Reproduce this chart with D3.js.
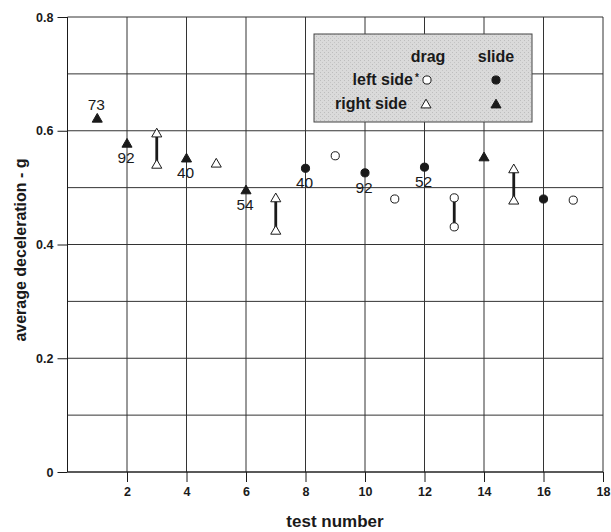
<!DOCTYPE html>
<html><head><meta charset="utf-8">
<script src="https://cdn.jsdelivr.net/npm/d3@7"></script>
<style>body{margin:0;background:#fff}svg{display:block}text{font-family:"Liberation Sans",Arial,sans-serif}</style>
</head><body><svg id="c" width="611" height="532"></svg>
<script>
// ---- data ----
const xTicks = [2,4,6,8,10,12,14,16,18];
const yTicks = [0,0.2,0.4,0.6,0.8];
// single points: test, value, method (drag/slide), side (left/right)
const pointTests  = [1,2,4,5,6,8,9,10,11,12,14,16,17];
const pointValues = [0.622,0.578,0.552,0.543,0.496,0.534,0.556,0.526,0.480,0.536,0.554,0.480,0.478];
const pointMethod = ["slide","slide","slide","drag","slide","slide","drag","slide","drag","slide","slide","slide","drag"];
const pointSide   = ["right","right","right","right","right","left","left","left","left","left","right","left","left"];
const pointLabels = ["73","92","40","","54","40","","92","","52","","",""];
const labelAbove  = [true,false,false,false,false,false,false,false,false,false,false,false,false];
// ranges (drag tests with two results)
const rangeTests = [3,7,13,15];
const rangeHigh  = [0.596,0.482,0.482,0.533];
const rangeLow   = [0.541,0.425,0.431,0.478];
const rangeSide  = ["right","right","left","right"];

const svg = d3.select("#c");
const x = d3.scaleLinear().domain([0,18]).range([67.5,603]);
const y = d3.scaleLinear().domain([0,0.8]).range([472,17]);
const ink = "#1a1a1a";

// grid
const g = svg.append("g");
g.selectAll(".hg").data(d3.range(0,0.81,0.1)).join("line")
  .attr("x1",x(0)).attr("x2",x(18)).attr("y1",d=>y(d)).attr("y2",d=>y(d))
  .attr("stroke","#333").attr("stroke-width",1);
g.selectAll(".vg").data([0].concat(xTicks)).join("line")
  .attr("x1",d=>x(d)).attr("x2",d=>x(d)).attr("y1",y(0.8)).attr("y2",y(0))
  .attr("stroke","#333").attr("stroke-width",1);

// axes
const xAxis = d3.axisBottom(x).tickValues(xTicks).tickSize(10).tickPadding(5).tickFormat(d3.format("d"));
const ax = svg.append("g").attr("transform",`translate(0,${y(0)})`).call(xAxis);
ax.select(".domain").attr("stroke",ink).attr("d",`M${x(0)},0H${x(18)}`);
ax.selectAll(".tick line").attr("stroke",ink);
ax.selectAll("text").attr("font-size",12.5).attr("font-weight","bold").attr("fill",ink);

const yAxis = d3.axisLeft(y).tickValues(yTicks).tickSize(10).tickPadding(4).tickFormat(d=>d===0?"0":d3.format(".1f")(d));
const ay = svg.append("g").attr("transform",`translate(${x(0)},0)`).call(yAxis);
ay.select(".domain").attr("stroke",ink).attr("d",`M0,${y(0)}V${y(0.8)}`);
ay.selectAll(".tick line").attr("stroke",ink);
ay.selectAll("text").attr("font-size",12.5).attr("font-weight","bold").attr("fill",ink);

// titles
svg.append("text").attr("x",335).attr("y",527).attr("text-anchor","middle")
  .attr("font-size",17).attr("font-weight","bold").attr("fill",ink).text("test number");
svg.append("text").attr("transform","translate(26,250) rotate(-90)").attr("text-anchor","middle")
  .attr("font-size",16).attr("font-weight","bold").attr("fill",ink).text("average deceleration - g");

// symbols
function sym(side){ return d3.symbol().type(side==="right"?d3.symbolTriangle:d3.symbolCircle).size(side==="right"?44:52)(); }
function drawMark(sel,cx,cy,method,side){
  sel.append("path").attr("d",sym(side)).attr("transform",`translate(${cx},${cy+(side==="right"?1:0)})`)
    .attr("fill",method==="slide"?ink:"#fff").attr("stroke",ink).attr("stroke-width",1);
}
const m = svg.append("g");
// ranges
rangeTests.forEach((t,i)=>{
  m.append("line").attr("x1",x(t)).attr("x2",x(t)).attr("y1",y(rangeHigh[i])).attr("y2",y(rangeLow[i]))
    .attr("stroke",ink).attr("stroke-width",2.8);
  drawMark(m,x(t),y(rangeHigh[i]),"drag",rangeSide[i]);
  drawMark(m,x(t),y(rangeLow[i]),"drag",rangeSide[i]);
});
pointTests.forEach((t,i)=>{
  drawMark(m,x(t),y(pointValues[i]),pointMethod[i],pointSide[i]);
  if(pointLabels[i]){
    m.append("text").attr("x",x(t)-1).attr("y",y(pointValues[i])+(labelAbove[i]?-8:20))
      .attr("text-anchor","middle").attr("font-size",15.5).attr("fill",ink).text(pointLabels[i]);
  }
});

// legend
const defs = svg.append("defs");
const pat = defs.append("pattern").attr("id","stip").attr("width",4).attr("height",4).attr("patternUnits","userSpaceOnUse");
pat.append("rect").attr("width",4).attr("height",4).attr("fill","#dadada");
pat.append("rect").attr("x",0).attr("y",0).attr("width",1).attr("height",1).attr("fill","#bdbdbd");
pat.append("rect").attr("x",2).attr("y",2).attr("width",1).attr("height",1).attr("fill","#c4c4c4");
const lg = svg.append("g");
lg.append("rect").attr("x",314).attr("y",34).attr("width",218).attr("height",88)
  .attr("fill","url(#stip)").attr("stroke","#444").attr("stroke-width",1);
const lt = (tx,ty,s,anchor)=>lg.append("text").attr("x",tx).attr("y",ty).attr("text-anchor",anchor)
  .attr("font-size",16).attr("font-weight","bold").attr("fill",ink).text(s);
lt(428,62,"drag","middle");
lt(496,62,"slide","middle");
lt(413,85,"left side","end");
lg.append("text").attr("x",415).attr("y",81).attr("font-size",10).attr("font-weight","bold").attr("fill",ink).text("*");
lt(407,109,"right side","end");
drawMark(lg,427,80,"drag","left");
drawMark(lg,496,80,"slide","left");
drawMark(lg,426,104,"drag","right");
drawMark(lg,496,104,"slide","right");
</script></body></html>
